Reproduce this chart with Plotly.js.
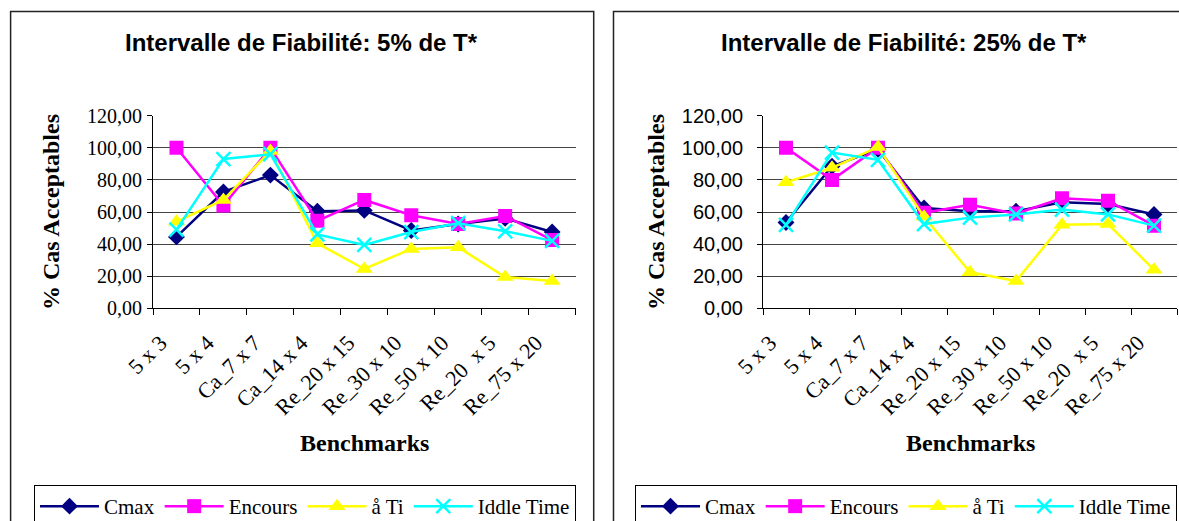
<!DOCTYPE html>
<html>
<head>
<meta charset="utf-8">
<script src="https://cdn.plot.ly/plotly-3.0.1.min.js"></script>
<style>html,body{margin:0;padding:0;background:#fff;}#chart{width:1179px;height:521px;}</style>
</head>
<body>
<div id="chart"></div>
<script>
const categories = ['5 x 3', '5 x 4', 'Ca_7 x 7', 'Ca_14 x 4', 'Re_20 x 15', 'Re_30 x 10', 'Re_50 x 10', 'Re_20\u00a0 x 5', 'Re_75 x 20'];
const seriesNames = ['Cmax', 'Encours', 'å Ti', 'Iddle Time'];

// Intervalle de Fiabilité: 5% de T*
const cmax5    = [44.5, 72.5, 83.0, 60.5, 61.0, 48.5, 52.5, 56.0, 47.5];
const encours5 = [100.0, 64.0, 100.0, 54.5, 67.5, 58.0, 52.5, 57.5, 42.5];
const ti5      = [54.0, 67.5, 98.0, 40.5, 24.5, 37.0, 38.0, 19.5, 17.0];
const iddle5   = [49.0, 93.0, 96.0, 46.0, 39.5, 47.5, 53.0, 48.0, 42.0];

// Intervalle de Fiabilité: 25% de T*
const cmax25    = [53.5, 88.5, 99.0, 62.5, 60.5, 60.5, 66.0, 65.0, 58.5];
const encours25 = [100.0, 80.0, 100.0, 59.5, 64.5, 59.0, 68.5, 67.0, 51.5];
const ti25      = [78.5, 87.5, 100.5, 57.0, 22.5, 17.0, 52.0, 52.5, 24.0];
const iddle25   = [52.0, 97.0, 92.5, 52.5, 56.5, 58.5, 61.5, 58.5, 51.5];

const W = 1179, H = 521;
const px = x => x / W;
const py = y => 1 - y / H;

const colors = ['#000080', '#FF00FF', '#FFFF00', '#00FFFF'];
const markers = [
  {symbol: 'diamond', size: 13},
  {symbol: 'square', size: 14},
  {symbol: 'triangle-up', size: 15},
  {symbol: 'x-thin', size: 14}
];

function makeTraces(data, xa, ya, legendName) {
  return data.map((vals, i) => {
    const m = markers[i];
    const marker = {symbol: m.symbol, size: m.size, color: colors[i]};
    if (m.symbol === 'x-thin') marker.line = {color: colors[i], width: 2.5};
    return {
      type: 'scatter', mode: 'lines+markers',
      x: categories, y: vals, name: seriesNames[i],
      xaxis: xa, yaxis: ya, legend: legendName,
      line: {color: colors[i], width: 2.5},
      marker: marker,
      hoverinfo: 'skip'
    };
  });
}

const traces = [
  ...makeTraces([cmax5, encours5, ti5, iddle5], 'x', 'y', 'legend'),
  ...makeTraces([cmax25, encours25, ti25, iddle25], 'x2', 'y2', 'legend2')
];

const yTop = py(115.7), yBot = py(308.3);

function xAxis(d0, d1, anchor) {
  return {
    domain: [px(d0), px(d1)], anchor: anchor, type: 'category',
    range: [-0.5, 8.5], tickson: 'boundaries', ticks: 'outside', ticklen: 6,
    tickcolor: '#000', tickwidth: 1, showline: true, linecolor: '#000', linewidth: 1,
    showgrid: false, zeroline: false, tickangle: -45,
    tickfont: {family: 'Liberation Serif', size: 22, color: '#000'},
    ticklabelstandoff: 12, ticklabelshift: -16,
    fixedrange: true
  };
}
function yAxis(anchor, fontFamily, standoff) {
  return {
    domain: [yBot, yTop], anchor: anchor, range: [0, 120], dtick: 20, tick0: 0,
    tickformat: '.2f', ticks: 'outside', ticklen: 5, tickcolor: '#000',
    showline: true, linecolor: '#000', linewidth: 1,
    showgrid: true, gridcolor: '#444', gridwidth: 1, zeroline: false,
    tickfont: {family: fontFamily, size: 20, color: '#000'},
    ticklabelstandoff: standoff,
    fixedrange: true
  };
}

const titleFont = {family: 'Liberation Sans', size: 24, color: '#000', weight: 'bold'};
const axTitleFont = {family: 'Liberation Serif', size: 24, color: '#000', weight: 'bold'};
const legendFont = {family: 'Liberation Serif', size: 21, color: '#000'};

const layout = {
  width: W, height: H,
  margin: {l: 0, r: 0, t: 0, b: 0, autoexpand: false},
  paper_bgcolor: '#fff', plot_bgcolor: '#fff',
  separators: ', ',
  showlegend: true,
  xaxis: xAxis(153, 575.6, 'y'),
  yaxis: yAxis('x', 'Liberation Serif', 1),
  xaxis2: xAxis(763, 1177, 'y2'),
  yaxis2: yAxis('x2', 'Liberation Sans', 10),
  legend: {
    orientation: 'h', x: px(34), xanchor: 'left', y: py(485), yanchor: 'top',
    bordercolor: '#000', borderwidth: 1, bgcolor: '#fff',
    font: legendFont, itemwidth: 59, traceorder: 'normal'
  },
  legend2: {
    orientation: 'h', x: px(635), xanchor: 'left', y: py(485), yanchor: 'top',
    bordercolor: '#000', borderwidth: 1, bgcolor: '#fff',
    font: legendFont, itemwidth: 59, traceorder: 'normal'
  },
  shapes: [
    {type: 'rect', xref: 'paper', yref: 'paper', x0: px(10.6), x1: px(593.7), y0: -0.2, y1: py(11.5),
     line: {color: '#222', width: 1.5}, fillcolor: 'rgba(0,0,0,0)', layer: 'below'},
    {type: 'rect', xref: 'paper', yref: 'paper', x0: px(613.5), x1: 1.2, y0: -0.2, y1: py(11.5),
     line: {color: '#222', width: 1.5}, fillcolor: 'rgba(0,0,0,0)', layer: 'below'}
  ],
  annotations: [
    {text: 'Intervalle de Fiabilité: 5% de T*', xref: 'paper', yref: 'paper', x: px(301), y: py(43),
     xanchor: 'center', yanchor: 'middle', showarrow: false, font: titleFont},
    {text: 'Intervalle de Fiabilité: 25% de T*', xref: 'paper', yref: 'paper', x: px(904), y: py(43),
     xanchor: 'center', yanchor: 'middle', showarrow: false, font: titleFont},
    {text: '% Cas Acceptables', xref: 'paper', yref: 'paper', x: px(51), y: py(212),
     xanchor: 'center', yanchor: 'middle', textangle: -90, showarrow: false, font: axTitleFont},
    {text: '% Cas Acceptables', xref: 'paper', yref: 'paper', x: px(656), y: py(212),
     xanchor: 'center', yanchor: 'middle', textangle: -90, showarrow: false, font: axTitleFont},
    {text: 'Benchmarks', xref: 'paper', yref: 'paper', x: px(364), y: py(443),
     xanchor: 'center', yanchor: 'middle', showarrow: false, font: axTitleFont},
    {text: 'Benchmarks', xref: 'paper', yref: 'paper', x: px(970), y: py(443),
     xanchor: 'center', yanchor: 'middle', showarrow: false, font: axTitleFont}
  ]
};

Plotly.newPlot('chart', traces, layout, {displayModeBar: false, staticPlot: true});
</script>
</body>
</html>
